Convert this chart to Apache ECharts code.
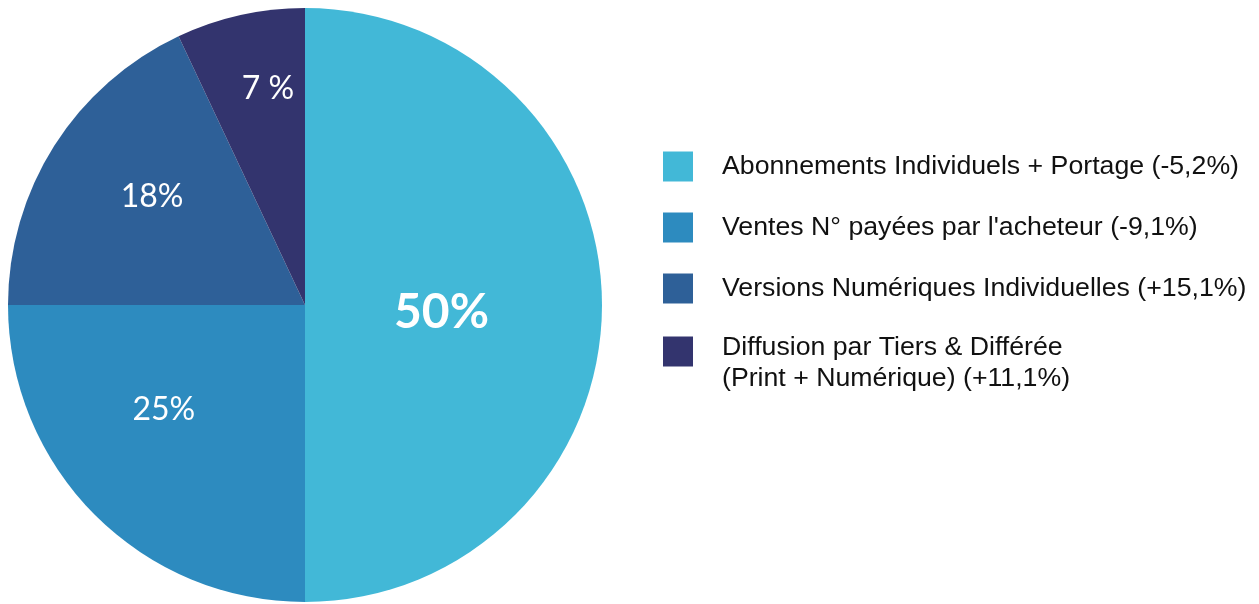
<!DOCTYPE html>
<html>
<head>
<meta charset="utf-8">
<script src="https://cdn.jsdelivr.net/npm/echarts@6/dist/echarts.min.js"></script>
<style>
  html, body { margin: 0; padding: 0; background: #fff; }
  #main { width: 1259px; height: 604px; }
</style>
</head>
<body>
<div id="main"></div>
<script>
var names = [
    'Abonnements Individuels + Portage (-5,2%)',
    'Ventes N° payées par l\'acheteur (-9,1%)',
    'Versions Numériques Individuelles (+15,1%)',
    'Diffusion par Tiers & Différée\n(Print + Numérique) (+11,1%)'
];
var values = [50, 25, 18, 7];
var labels = ['50%', '25%', '18%', '7 %'];
var colors = ['#42b8d7', '#2d8bbf', '#2e6098', '#33346e'];

// label shifts from the default inside position
var shifts = [[-15, 8], [-34, -2], [-25, -27], [-4, -68]];

var myChart = echarts.init(document.getElementById('main'));

var data = values.map(function (v, i) {
    return {
        value: v,
        name: names[i],
        itemStyle: { color: colors[i] },
        label: i === 0 ? { fontSize: 48, fontWeight: 'bold' } : {}
    };
});

var legendText = {
    fontFamily: '"Liberation Sans", Arial, sans-serif',
    fontSize: 26.7,
    color: '#111',
    lineHeight: 31,
    padding: [0, 0, 0, 24]
};

var option = {
    animation: false,
    legend: [
        {
            data: names.slice(0, 3),
            orient: 'vertical',
            left: 663,
            top: 151,
            padding: 0,
            itemWidth: 30,
            itemHeight: 30,
            itemGap: 30,
            icon: 'rect',
            selectedMode: false,
            textStyle: legendText
        },
        {
            data: [names[3]],
            orient: 'vertical',
            left: 663,
            top: 309,
            padding: 0,
            itemWidth: 30,
            itemHeight: 30,
            icon: 'rect',
            selectedMode: false,
            formatter: function (n) { return '{e| }\n' + n; },
            textStyle: Object.assign({
                rich: { e: { fontSize: 8, lineHeight: 23 } }
            }, legendText)
        }
    ],
    series: [
        {
            type: 'pie',
            radius: 297,
            center: [305, 305],
            startAngle: 90,
            clockwise: true,
            avoidLabelOverlap: false,
            itemStyle: { borderWidth: 0 },
            emphasis: { disabled: true },
            label: {
                show: true,
                position: 'inside',
                formatter: function (p) { return labels[p.dataIndex]; },
                color: '#fff',
                fontFamily: 'Lato, sans-serif',
                fontSize: 32
            },
            labelLine: { show: false },
            labelLayout: function (p) {
                var s = shifts[p.dataIndex];
                return { dx: s[0], dy: s[1] };
            },
            data: data
        }
    ]
};

myChart.setOption(option);
window.addEventListener('resize', myChart.resize);
</script>
</body>
</html>
